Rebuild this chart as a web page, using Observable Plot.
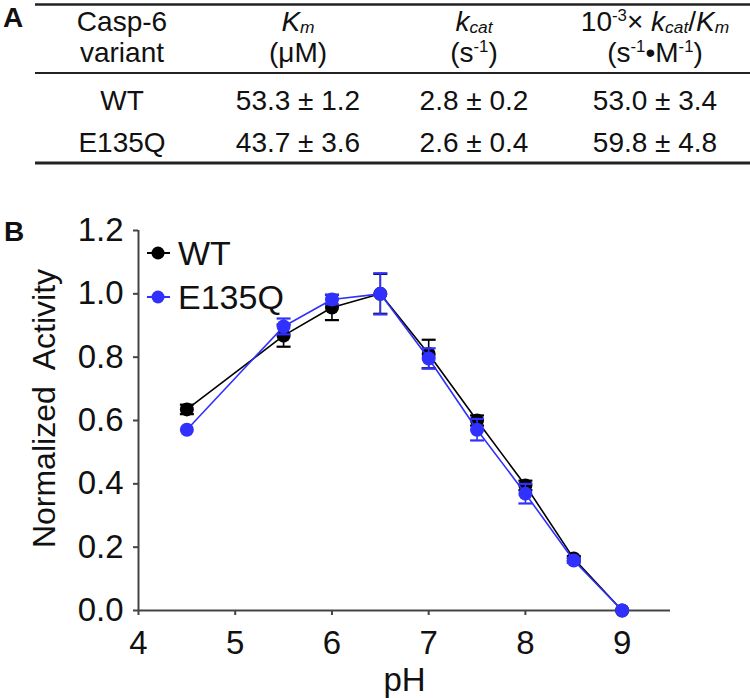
<!DOCTYPE html>
<html>
<head>
<meta charset="utf-8">
<script src="https://cdn.jsdelivr.net/npm/d3@7"></script>
<script src="https://cdn.jsdelivr.net/npm/@observablehq/plot@0.6"></script>
<style>
  html, body { margin: 0; padding: 0; background: #fff; }
  #root { position: relative; width: 750px; height: 698px; font-family: "Liberation Sans", Arial, Helvetica, sans-serif; color: #111; }
  #tableA, #legend { position: absolute; left: 0; top: 0; }
  #chart { position: absolute; left: 0; top: 200px; }
  svg text { white-space: pre; }
</style>
</head>
<body>
<div id="root">
  <svg id="tableA" width="750" height="200"></svg>
  <div id="chart"></div>
  <svg id="legend" width="750" height="698" style="pointer-events:none"></svg>
</div>
<script>
// ---------- Panel A: table data ----------
const tableVariants = ["WT", "E135Q"];
const kmValues = ["53.3 ± 1.2", "43.7 ± 3.6"];
const kcatValues = ["2.8 ± 0.2", "2.6 ± 0.4"];
const kcatKmValues = ["53.0 ± 3.4", "59.8 ± 4.8"];

// ---------- Panel B: pH profile data ----------
const pH = [4.5, 5.5, 6.0, 6.5, 7.0, 7.5, 8.0, 8.5, 9.0];
const wtActivity = [0.635, 0.868, 0.957, 1.0, 0.81, 0.60, 0.395, 0.164, 0];
const wtError = [0.015, 0.035, 0.04, 0.063, 0.045, 0.016, 0.015, 0.008, 0];
const e135qActivity = [0.571, 0.897, 0.982, 1.0, 0.796, 0.571, 0.369, 0.158, 0];
const e135qError = [0.005, 0.025, 0.015, 0.065, 0.032, 0.034, 0.031, 0.008, 0];
const seriesNames = ["WT", "E135Q"];
const seriesColors = ["#000000", "#3030ff"];
const xTicks = [4, 5, 6, 7, 8, 9];
const yTicks = [0, 0.2, 0.4, 0.6, 0.8, 1.0, 1.2];
const xLabel = "pH";
const yLabel = "Normalized  Activity";

const FONT = '"Liberation Sans", Arial, Helvetica, sans-serif';

// ---------- Draw table (panel A) ----------
const tsvg = d3.select("#tableA");
tsvg.append("text").attr("x", 3).attr("y", 27).attr("font-size", 28).attr("font-weight", "bold")
  .attr("font-family", FONT).attr("fill", "#111").text("A");
const rules = [{y: 4.5, w: 2.5}, {y: 73, w: 2}, {y: 163, w: 3}];
rules.forEach(r => tsvg.append("line").attr("x1", 35).attr("x2", 750).attr("y1", r.y).attr("y2", r.y)
  .attr("stroke", "#222").attr("stroke-width", r.w));

const colX = [122, 298, 474, 655];
function rich(x, y, parts, size) {
  const t = tsvg.append("text").attr("x", x).attr("y", y).attr("text-anchor", "middle")
    .attr("font-size", size).attr("font-family", FONT).attr("fill", "#111");
  let shift = 0;
  parts.forEach(p => {
    const s = t.append("tspan").text(p.t);
    let target = 0;
    if (p.sub) { target = size * 0.07; s.attr("font-size", size * 0.62); }
    if (p.sup) { target = -size * 0.34; s.attr("font-size", size * 0.6); }
    if (target !== shift) { s.attr("dy", target - shift); shift = target; }
    if (p.i) s.attr("font-style", "italic");
  });
}
const hs = 28;
rich(colX[0], 31, [{t: "Casp-6"}], hs);
rich(colX[0], 62, [{t: "variant"}], hs);
rich(colX[1], 31, [{t: "K", i: true}, {t: "m", i: true, sub: true}], hs);
rich(colX[1], 62, [{t: "(μM)"}], hs);
rich(colX[2], 31, [{t: "k", i: true}, {t: "cat", i: true, sub: true}], hs);
rich(colX[2], 62, [{t: "(s"}, {t: "-1", sup: true}, {t: ")"}], hs);
rich(colX[3], 31, [{t: "10"}, {t: "-3", sup: true}, {t: "× "}, {t: "k", i: true}, {t: "cat", i: true, sub: true}, {t: "/"}, {t: "K", i: true}, {t: "m", i: true, sub: true}], hs);
rich(colX[3], 62, [{t: "(s"}, {t: "-1", sup: true}, {t: "•M"}, {t: "-1", sup: true}, {t: ")"}], hs);
const rowY = [110, 152];
tableVariants.forEach((v, i) => {
  [v, kmValues[i], kcatValues[i], kcatKmValues[i]].forEach((txt, j) => rich(colX[j], rowY[i], [{t: txt}], 28));
});

// ---------- Draw chart (panel B) ----------
const acts = [wtActivity, e135qActivity];
const errs = [wtError, e135qError];
const capSymbol = { draw(context, size) { const w = 7; context.moveTo(-w, 0); context.lineTo(w, 0); } };

const marks = [
  Plot.axisX({ticks: xTicks, tickFormat: d3.format("d"), tickSize: 5, tickPadding: 15, fontSize: 33, stroke: "#444", strokeWidth: 2, fill: "#111",
    label: xLabel, labelAnchor: "center", labelArrow: "none", labelOffset: 80}),
  Plot.axisY({ticks: yTicks, tickFormat: d3.format(".1f"), tickSize: 5, tickPadding: 10, fontSize: 33, stroke: "#444", strokeWidth: 2, fill: "#111", label: null}),
  Plot.text([yLabel], {frameAnchor: "left", rotate: -90, dx: -106, dy: -12, lineAnchor: "top", textAnchor: "middle", fontSize: 32, fill: "#111"}),
  Plot.ruleY([0], {stroke: "#444", strokeWidth: 2}),
  Plot.ruleX([4], {stroke: "#444", strokeWidth: 2})
];
seriesNames.forEach((name, k) => {
  const rows = pH.map((x, i) => ({pH: x, act: acts[k][i], lo: acts[k][i] - errs[k][i], hi: acts[k][i] + errs[k][i], err: errs[k][i]}));
  const withErr = rows.filter(d => d.err > 0.006);
  const c = seriesColors[k];
  marks.push(
    Plot.line(rows, {x: "pH", y: "act", stroke: c, strokeWidth: 1.6}),
    Plot.ruleX(withErr, {x: "pH", y1: "lo", y2: "hi", stroke: c, strokeWidth: 1.6}),
    Plot.dot(withErr, {x: "pH", y: "lo", symbol: capSymbol, fill: "none", stroke: c, strokeWidth: 2.2}),
    Plot.dot(withErr, {x: "pH", y: "hi", symbol: capSymbol, fill: "none", stroke: c, strokeWidth: 2.2}),
    Plot.dot(rows, {x: "pH", y: "act", r: 7, fill: c, stroke: "none"})
  );
});

const chart = Plot.plot({
  width: 750, height: 498,
  marginTop: 30, marginBottom: 88, marginLeft: 138, marginRight: 80,
  style: {fontFamily: FONT, fontSize: "32px", color: "#111", background: "transparent", overflow: "visible"},
  x: {domain: [4, 9.5]},
  y: {domain: [0, 1.2]},
  marks
});
document.getElementById("chart").appendChild(chart);

// ---------- Panel label B and legend ----------
const lsvg = d3.select("#legend");
lsvg.append("text").attr("x", 4).attr("y", 241).attr("font-size", 28).attr("font-weight", "bold")
  .attr("font-family", FONT).attr("fill", "#111").text("B");
const legendY = [253, 297];
seriesNames.forEach((name, k) => {
  const g = lsvg.append("g");
  g.append("line").attr("x1", 147).attr("x2", 170).attr("y1", legendY[k]).attr("y2", legendY[k])
    .attr("stroke", seriesColors[k]).attr("stroke-width", 2);
  g.append("circle").attr("cx", 158).attr("cy", legendY[k]).attr("r", 6.5).attr("fill", seriesColors[k]);
  g.append("text").attr("x", 178).attr("y", legendY[k] + 12).attr("font-size", 34)
    .attr("font-family", FONT).attr("fill", "#111").text(name);
});
</script>
</body>
</html>
